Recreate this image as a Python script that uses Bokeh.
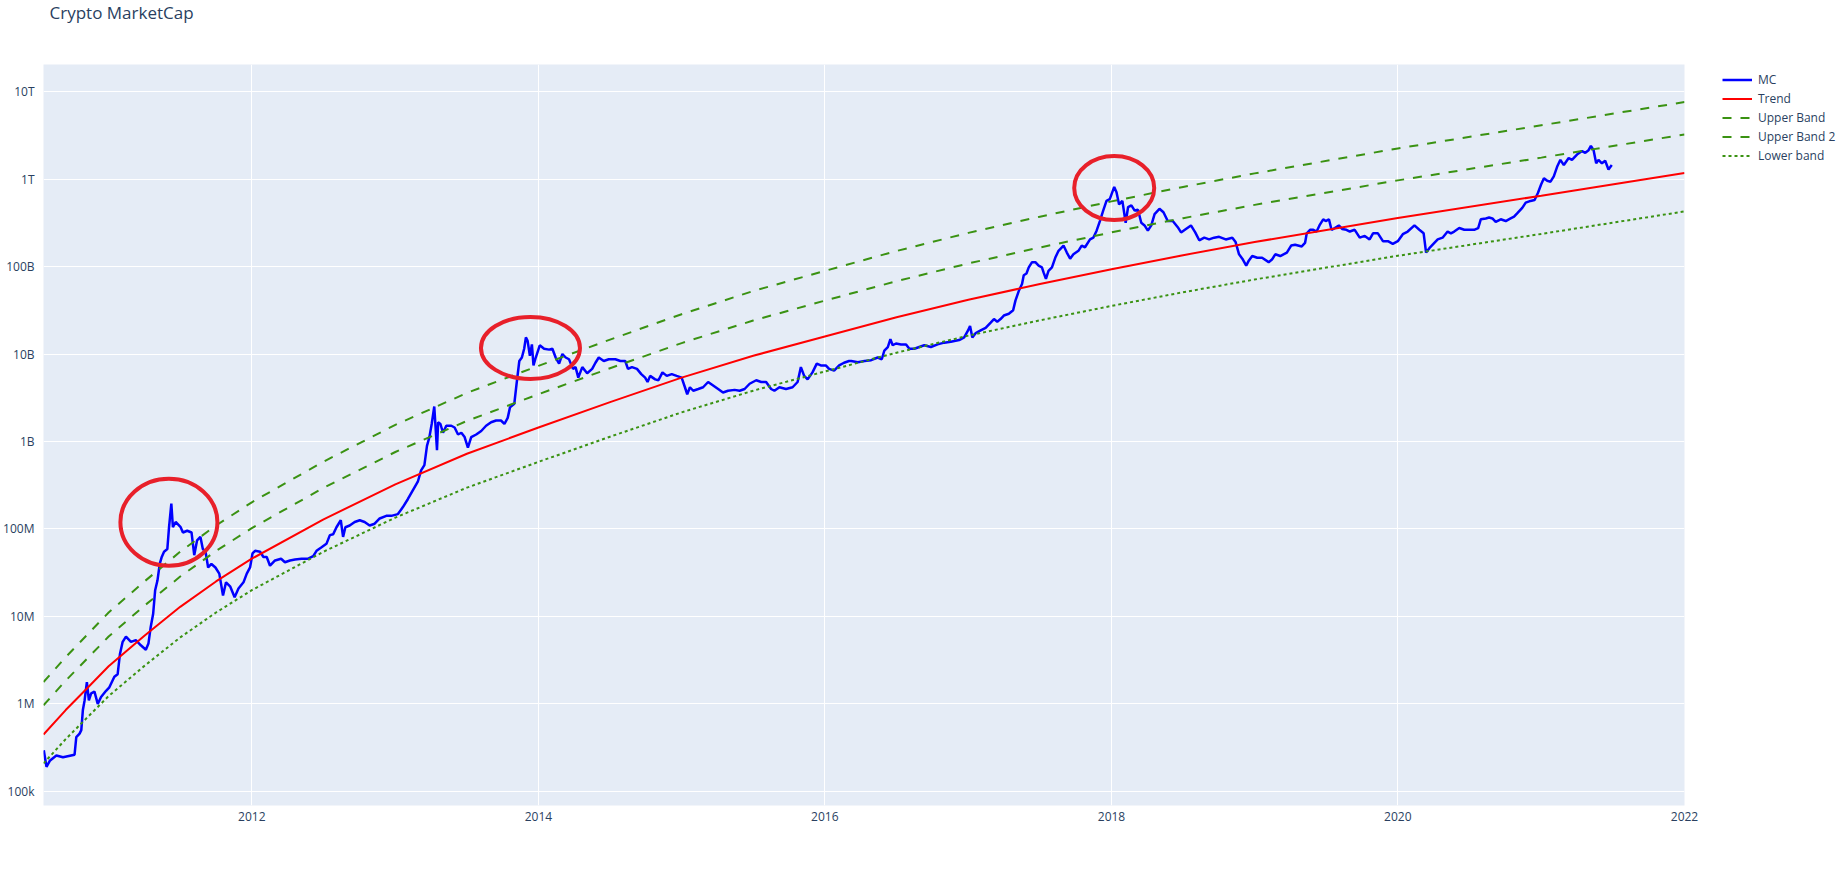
import numpy as np
import pandas as pd
from bokeh.plotting import figure
from bokeh.models import (ColumnDataSource, Range1d, FixedTicker, DatetimeTickFormatter,
                          Legend, LegendItem, Title)
from bokeh.embed import file_html
from bokeh.resources import INLINE

# ---------------- data ----------------
# MC: total crypto market cap, dates as decimal years, values as log10(USD)
mc_year = [
    2010.547, 2010.566, 2010.589, 2010.635, 2010.681, 2010.762, 2010.774, 2010.797, 2010.809, 2010.820,
    2010.832, 2010.848, 2010.862, 2010.878, 2010.901, 2010.924, 2010.947, 2010.982, 2011.005, 2011.040,
    2011.063, 2011.079, 2011.098, 2011.121, 2011.156, 2011.190, 2011.225, 2011.260, 2011.278, 2011.294,
    2011.311, 2011.325, 2011.341, 2011.357, 2011.371, 2011.387, 2011.410, 2011.422, 2011.438, 2011.449,
    2011.468, 2011.503, 2011.519, 2011.549, 2011.579, 2011.598, 2011.618, 2011.641, 2011.658, 2011.676,
    2011.695, 2011.718, 2011.746, 2011.773, 2011.799, 2011.820, 2011.850, 2011.880, 2011.907, 2011.942,
    2011.965, 2011.988, 2012.005, 2012.023, 2012.058, 2012.081, 2012.104, 2012.127, 2012.162, 2012.204,
    2012.231, 2012.266, 2012.301, 2012.347, 2012.393, 2012.428, 2012.451, 2012.486, 2012.520, 2012.544,
    2012.567, 2012.590, 2012.620, 2012.636, 2012.652, 2012.682, 2012.717, 2012.752, 2012.786, 2012.821,
    2012.856, 2012.891, 2012.937, 2012.972, 2013.018, 2013.053, 2013.087, 2013.122, 2013.157, 2013.180,
    2013.203, 2013.221, 2013.238, 2013.254, 2013.272, 2013.291, 2013.299, 2013.315, 2013.333, 2013.356,
    2013.391, 2013.414, 2013.438, 2013.461, 2013.484, 2013.507, 2013.530, 2013.565, 2013.600, 2013.634,
    2013.669, 2013.704, 2013.738, 2013.762, 2013.785, 2013.801, 2013.831, 2013.847, 2013.866, 2013.884,
    2013.900, 2013.912, 2013.924, 2013.940, 2013.954, 2013.965, 2013.981, 2014.009, 2014.039, 2014.074,
    2014.097, 2014.120, 2014.144, 2014.167, 2014.190, 2014.213, 2014.241, 2014.259, 2014.278, 2014.306,
    2014.340, 2014.375, 2014.398, 2014.421, 2014.456, 2014.491, 2014.537, 2014.572, 2014.606, 2014.625,
    2014.653, 2014.688, 2014.718, 2014.745, 2014.762, 2014.780, 2014.815, 2014.838, 2014.866, 2014.896,
    2014.931, 2014.965, 2015.000, 2015.023, 2015.039, 2015.058, 2015.081, 2015.116, 2015.150, 2015.185,
    2015.220, 2015.255, 2015.289, 2015.324, 2015.370, 2015.405, 2015.440, 2015.475, 2015.521, 2015.556,
    2015.590, 2015.625, 2015.648, 2015.683, 2015.729, 2015.775, 2015.810, 2015.833, 2015.856, 2015.880,
    2015.914, 2015.944, 2015.972, 2016.007, 2016.030, 2016.065, 2016.100, 2016.134, 2016.169, 2016.184,
    2016.230, 2016.277, 2016.323, 2016.369, 2016.397, 2016.415, 2016.439, 2016.457, 2016.473, 2016.496,
    2016.531, 2016.566, 2016.589, 2016.624, 2016.658, 2016.693, 2016.739, 2016.786, 2016.832, 2016.878,
    2016.936, 2016.971, 2016.998, 2017.012, 2017.028, 2017.052, 2017.086, 2017.121, 2017.156, 2017.179,
    2017.202, 2017.225, 2017.248, 2017.283, 2017.313, 2017.329, 2017.352, 2017.375, 2017.387, 2017.406,
    2017.422, 2017.445, 2017.468, 2017.491, 2017.514, 2017.526, 2017.542, 2017.560, 2017.584, 2017.607,
    2017.630, 2017.665, 2017.688, 2017.711, 2017.734, 2017.769, 2017.792, 2017.815, 2017.850, 2017.873,
    2017.896, 2017.919, 2017.942, 2017.965, 2017.988, 2018.019, 2018.035, 2018.053, 2018.076, 2018.099,
    2018.116, 2018.139, 2018.162, 2018.185, 2018.208, 2018.231, 2018.254, 2018.278, 2018.301, 2018.335,
    2018.363, 2018.393, 2018.428, 2018.463, 2018.486, 2018.520, 2018.555, 2018.585, 2018.613, 2018.648,
    2018.682, 2018.717, 2018.752, 2018.798, 2018.844, 2018.867, 2018.891, 2018.914, 2018.941, 2018.960,
    2018.983, 2019.018, 2019.052, 2019.098, 2019.121, 2019.144, 2019.179, 2019.225, 2019.255, 2019.283,
    2019.329, 2019.352, 2019.364, 2019.387, 2019.410, 2019.433, 2019.456, 2019.479, 2019.496, 2019.519,
    2019.537, 2019.560, 2019.588, 2019.611, 2019.641, 2019.665, 2019.699, 2019.734, 2019.769, 2019.803,
    2019.827, 2019.861, 2019.896, 2019.931, 2019.965, 2020.000, 2020.035, 2020.069, 2020.116, 2020.150,
    2020.180, 2020.197, 2020.220, 2020.243, 2020.278, 2020.312, 2020.347, 2020.370, 2020.393, 2020.428,
    2020.463, 2020.497, 2020.532, 2020.560, 2020.578, 2020.613, 2020.636, 2020.659, 2020.682, 2020.717,
    2020.752, 2020.786, 2020.810, 2020.833, 2020.867, 2020.891, 2020.925, 2020.953, 2020.976, 2020.999,
    2021.018, 2021.041, 2021.064, 2021.087, 2021.110, 2021.133, 2021.157, 2021.191, 2021.214, 2021.249,
    2021.284, 2021.307, 2021.330, 2021.346, 2021.365, 2021.383, 2021.399, 2021.423, 2021.446, 2021.469,
    2021.492,
]
mc_log10 = [
    5.47, 5.28, 5.35, 5.41, 5.39, 5.42, 5.62, 5.66, 5.70, 5.93,
    6.04, 6.25, 6.04, 6.12, 6.14, 6.00, 6.08, 6.15, 6.19, 6.31,
    6.34, 6.57, 6.71, 6.77, 6.71, 6.73, 6.67, 6.62, 6.69, 6.88,
    7.03, 7.30, 7.41, 7.60, 7.68, 7.74, 7.77, 8.02, 8.29, 8.02,
    8.08, 8.02, 7.96, 7.98, 7.96, 7.70, 7.87, 7.91, 7.77, 7.75,
    7.56, 7.60, 7.56, 7.49, 7.24, 7.39, 7.34, 7.22, 7.32, 7.39,
    7.49, 7.56, 7.72, 7.75, 7.74, 7.68, 7.68, 7.58, 7.64, 7.66,
    7.62, 7.64, 7.65, 7.66, 7.66, 7.69, 7.75, 7.79, 7.83, 7.93,
    7.94, 8.02, 8.10, 7.91, 8.02, 8.04, 8.08, 8.10, 8.08, 8.04,
    8.06, 8.12, 8.15, 8.15, 8.17, 8.25, 8.34, 8.44, 8.54, 8.67,
    8.73, 8.95, 9.05, 9.20, 9.40, 8.90, 9.22, 9.20, 9.10, 9.18,
    9.18, 9.16, 9.08, 9.10, 9.05, 8.93, 9.05, 9.08, 9.12, 9.18,
    9.22, 9.24, 9.24, 9.20, 9.27, 9.39, 9.43, 9.66, 9.92, 9.96,
    10.06, 10.19, 10.15, 9.98, 10.11, 9.87, 9.96, 10.10, 10.06, 10.05,
    10.06, 9.96, 9.89, 10.00, 9.96, 9.94, 9.83, 9.85, 9.73, 9.85,
    9.78, 9.83, 9.90, 9.96, 9.92, 9.94, 9.94, 9.92, 9.92, 9.83,
    9.85, 9.83, 9.77, 9.73, 9.68, 9.75, 9.71, 9.70, 9.79, 9.75,
    9.77, 9.75, 9.73, 9.62, 9.54, 9.62, 9.58, 9.60, 9.62, 9.68,
    9.64, 9.60, 9.56, 9.58, 9.59, 9.58, 9.60, 9.66, 9.70, 9.68,
    9.68, 9.60, 9.58, 9.62, 9.60, 9.62, 9.68, 9.85, 9.75, 9.71,
    9.79, 9.89, 9.87, 9.87, 9.83, 9.81, 9.87, 9.90, 9.92, 9.92,
    9.905, 9.92, 9.93, 9.96, 9.94, 10.04, 10.08, 10.17, 10.10, 10.12,
    10.11, 10.11, 10.06, 10.06, 10.08, 10.10, 10.08, 10.11, 10.13, 10.14,
    10.16, 10.19, 10.27, 10.32, 10.19, 10.24, 10.27, 10.30, 10.36, 10.40,
    10.37, 10.40, 10.44, 10.46, 10.50, 10.61, 10.72, 10.80, 10.90, 10.92,
    10.99, 11.05, 11.05, 11.01, 10.99, 10.93, 10.86, 10.95, 10.99, 11.10,
    11.18, 11.24, 11.16, 11.09, 11.14, 11.18, 11.24, 11.22, 11.31, 11.33,
    11.41, 11.52, 11.64, 11.75, 11.77, 11.91, 11.85, 11.71, 11.75, 11.50,
    11.68, 11.70, 11.64, 11.65, 11.50, 11.47, 11.41, 11.47, 11.60, 11.66,
    11.62, 11.52, 11.52, 11.45, 11.39, 11.43, 11.47, 11.39, 11.30, 11.33,
    11.31, 11.33, 11.34, 11.31, 11.33, 11.28, 11.14, 11.09, 11.01, 11.07,
    11.12, 11.10, 11.10, 11.05, 11.08, 11.14, 11.12, 11.16, 11.24, 11.25,
    11.23, 11.27, 11.38, 11.42, 11.42, 11.40, 11.48, 11.54, 11.52, 11.54,
    11.42, 11.44, 11.47, 11.43, 11.42, 11.40, 11.42, 11.33, 11.35, 11.31,
    11.38, 11.38, 11.29, 11.29, 11.26, 11.29, 11.37, 11.40, 11.47, 11.42,
    11.38, 11.16, 11.21, 11.25, 11.31, 11.33, 11.40, 11.38, 11.40, 11.44,
    11.42, 11.42, 11.42, 11.44, 11.54, 11.55, 11.56, 11.55, 11.51, 11.54,
    11.52, 11.55, 11.57, 11.61, 11.67, 11.73, 11.75, 11.76, 11.84, 11.94,
    12.01, 11.98, 11.97, 12.03, 12.14, 12.22, 12.16, 12.24, 12.22, 12.28,
    12.32, 12.30, 12.33, 12.38, 12.33, 12.18, 12.22, 12.18, 12.21, 12.11,
    12.16,
]

# Trend and bands (log10 USD) at these decimal years
band_year = [2010.545, 2010.70, 2010.85, 2011.00, 2011.25, 2011.50, 2011.75, 2012.00, 2012.50,
             2013.00, 2013.50, 2014.00, 2014.50, 2015.00, 2015.50, 2016.00, 2016.50, 2017.00,
             2017.50, 2018.00, 2018.50, 2019.00, 2020.00, 2021.00, 2022.00]
trend_log10 = [5.65, 5.93, 6.18, 6.43, 6.78, 7.11, 7.40, 7.66, 8.11,
               8.51, 8.86, 9.16, 9.45, 9.73, 9.98, 10.20, 10.42, 10.62,
               10.80, 10.97, 11.13, 11.28, 11.555, 11.81, 12.07]
upper_log10 = [6.25, 6.535, 6.79, 7.045, 7.40, 7.74, 8.04, 8.305, 8.77,
               9.19, 9.555, 9.865, 10.165, 10.455, 10.72, 10.95, 11.178, 11.385,
               11.57, 11.745, 11.91, 12.065, 12.35, 12.615, 12.88]
upper2_log10 = [5.985, 6.266, 6.518, 6.77, 7.123, 7.456, 7.748, 8.01, 8.47,
                8.88, 9.235, 9.54, 9.838, 10.125, 10.383, 10.61, 10.833, 11.035,
                11.218, 11.39, 11.553, 11.705, 11.985, 12.245, 12.51]
lower_log10 = [5.32, 5.597, 5.844, 6.09, 6.435, 6.76, 7.045, 7.30, 7.74,
               8.13, 8.472, 8.767, 9.055, 9.333, 9.581, 9.80, 10.015, 10.21,
               10.385, 10.55, 10.706, 10.852, 11.123, 11.373, 11.63]

# highlighted peaks (red circles): centre date / log10 value
highlight_year = [2011.421, 2013.944, 2018.019]
highlight_log10 = [8.078, 10.069, 11.898]

series_names = ["MC", "Trend", "Upper Band", "Upper Band 2", "Lower band"]
x_tick_years = [2012, 2014, 2016, 2018, 2020, 2022]
y_tick_values = [1e5, 1e6, 1e7, 1e8, 1e9, 1e10, 1e11, 1e12, 1e13]
y_tick_labels = ["100k", "1M", "10M", "100M", "1B", "10B", "100B", "1T", "10T"]


def to_dt(years):
    out = []
    for y in years:
        yi = int(np.floor(y))
        start = pd.Timestamp(year=yi, month=1, day=1)
        end = pd.Timestamp(year=yi + 1, month=1, day=1)
        out.append(start + (end - start) * (y - yi))
    return out


def to_val(logs):
    return [10 ** v for v in logs]


FONT = "Open Sans"
TXT = "#2a3f5f"
GREEN = "#3a9212"

mc_src = ColumnDataSource(dict(x=to_dt(mc_year), y=to_val(mc_log10)))
band_src = ColumnDataSource(dict(x=to_dt(band_year), trend=to_val(trend_log10),
                                 upper=to_val(upper_log10), upper2=to_val(upper2_log10),
                                 lower=to_val(lower_log10)))
hl_src = ColumnDataSource(dict(x=to_dt(highlight_year), y=to_val(highlight_log10),
                               w=[97, 99, 80], h=[87, 62, 64]))

FW, FH = 1641, 741
p = figure(frame_width=FW, frame_height=FH, x_axis_type="datetime", y_axis_type="log",
           x_range=Range1d(to_dt([band_year[0]])[0], to_dt([band_year[-1]])[0]),
           y_range=Range1d(6.9e4, 2.04e13),
           output_backend="svg", toolbar_location=None,
           min_border_left=20, min_border_right=140, min_border_top=64, min_border_bottom=60)

# main title (outermost in the top panel), pushed to the top by a blank spacer title
p.title.text = "Crypto MarketCap"
p.title.text_font = FONT
p.title.text_font_size = "17px"
p.title.text_font_style = "normal"
p.title.text_color = TXT
p.title.vertical_align = "top"
p.title.offset = 6
p.title.standoff = 0
spacer = Title(text=" ", text_font_size="10px", standoff=26)
p.add_layout(spacer, "above")

p.background_fill_color = "#E5ECF6"
p.border_fill_color = "white"
p.outline_line_color = None

x_ticks = [pd.Timestamp(year=y, month=1, day=1).value // 10**6 for y in x_tick_years]
p.xaxis.ticker = FixedTicker(ticks=x_ticks)
p.xaxis.formatter = DatetimeTickFormatter(years="%Y", months="%Y", days="%Y")
p.yaxis.ticker = FixedTicker(ticks=y_tick_values)
p.yaxis.major_label_overrides = {int(v): lab for v, lab in zip(y_tick_values, y_tick_labels)}

for ax in (p.xaxis, p.yaxis):
    ax.axis_line_color = None
    ax.major_tick_line_color = None
    ax.minor_tick_line_color = None
    ax.major_label_text_font = FONT
    ax.major_label_text_font_size = "12px"
    ax.major_label_text_color = TXT
p.xaxis.major_label_standoff = 0
p.yaxis.major_label_standoff = 3

p.grid.grid_line_color = "white"
p.grid.grid_line_width = 1
p.grid.minor_grid_line_color = None

r_mc = p.line("x", "y", source=mc_src, line_color="blue", line_width=2.5)
r_tr = p.line("x", "trend", source=band_src, line_color="red", line_width=2)
r_up = p.line("x", "upper", source=band_src, line_color=GREEN, line_width=2, line_dash="9 9")
r_up2 = p.line("x", "upper2", source=band_src, line_color=GREEN, line_width=2, line_dash="9 9")
r_lo = p.line("x", "lower", source=band_src, line_color=GREEN, line_width=2, line_dash="3 3")

p.ellipse("x", "y", width="w", height="h", source=hl_src, width_units="screen",
          height_units="screen", fill_color=None, line_color="#e8202a", line_width=4)

legend = Legend(items=[LegendItem(label=n, renderers=[r]) for n, r in
                       zip(series_names, [r_mc, r_tr, r_up, r_up2, r_lo])],
                location=(38, FH - 6 - 95), glyph_width=30, glyph_height=19,
                label_height=19, label_standoff=6, spacing=0, padding=0, margin=0,
                border_line_color=None, background_fill_alpha=0,
                label_text_font=FONT, label_text_font_size="12px", label_text_color=TXT)
p.add_layout(legend, "right")

open("out.html", "w").write(file_html(p, INLINE))
